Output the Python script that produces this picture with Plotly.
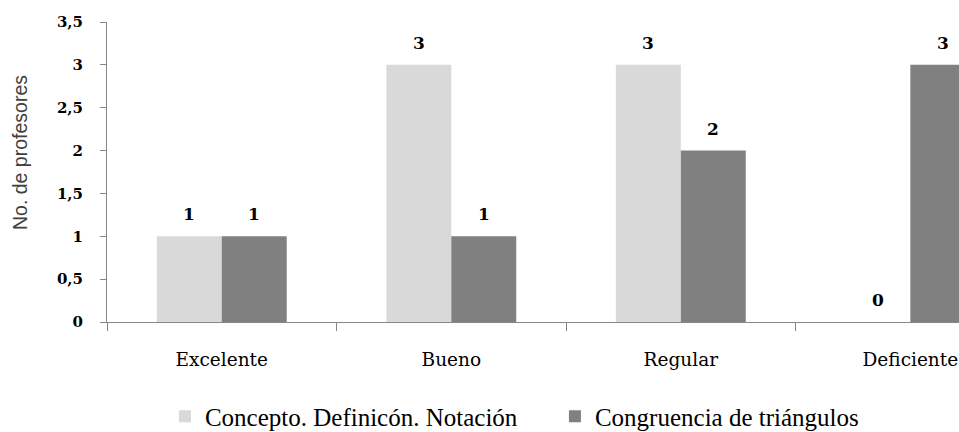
import plotly.graph_objects as go

# Survey results: number of teachers per rating, for each topic
categories = ["Excelente", "Bueno", "Regular", "Deficiente"]
concepto = [1, 3, 3, 0]
congruencia = [1, 1, 2, 3]
series_names = ["Concepto. Definicón. Notación", "Congruencia de triángulos"]
y_ticks = [0, 0.5, 1, 1.5, 2, 2.5, 3, 3.5]

LIGHT = "#d9d9d9"
DARK = "#808080"
AXIS = "#868686"
BARGAP = 0.434

fig = go.Figure()
fig.add_trace(go.Bar(x=categories, y=concepto, name=series_names[0],
                     marker=dict(color=LIGHT, line=dict(width=0))))
fig.add_trace(go.Bar(x=categories, y=congruencia, name=series_names[1],
                     marker=dict(color=DARK, line=dict(width=0))))

# value labels above each bar (bar half-width in category units = (1-gap)/4)
half = (1 - BARGAP) / 4
annotations = []
for i, cat in enumerate(categories):
    for vals, sign in ((concepto, -1), (congruencia, 1)):
        annotations.append(dict(
            x=i + sign * half, y=vals[i], xref="x", yref="y",
            text=f"<b>{vals[i]}</b>", showarrow=False,
            yanchor="middle", yshift=22,
            font=dict(family="DejaVu Serif", size=17, color="#000000")))

# vertical axis title
annotations.append(dict(
    text="No. de profesores", xref="paper", yref="paper",
    x=0, y=(322 - 153) / 300, xanchor="center", yanchor="middle",
    xshift=-87, textangle=-90, showarrow=False,
    font=dict(family="Liberation Sans", size=19.5, color="#404040")))

fig.update_layout(
    width=959, height=432,
    margin=dict(l=107, r=0, t=22, b=110, pad=0, autoexpand=False),
    plot_bgcolor="white", paper_bgcolor="white",
    barmode="group", bargap=BARGAP, bargroupgap=0,
    separators=", ",
    showlegend=True,
    legend=dict(orientation="h", xref="paper", yref="paper",
                x=0.068, y=-0.315, xanchor="left", yanchor="middle",
                font=dict(family="Liberation Serif", size=25, color="#000000"),
                itemwidth=30, tracegroupgap=0,
                entrywidth=345, entrywidthmode="pixels"),
    annotations=annotations,
    xaxis=dict(
        type="category", range=[-0.5, 3.212],
        showline=True, linecolor=AXIS, linewidth=1,
        ticks="outside", tickson="boundaries", ticklen=8,
        tickcolor=AXIS, tickwidth=1,
        ticklabelstandoff=21,
        tickfont=dict(family="DejaVu Serif", size=18.5, color="#000000"),
        showgrid=False, zeroline=False, fixedrange=True),
    yaxis=dict(
        range=[0, 3.5], tickmode="array", tickvals=y_ticks,
        showline=True, linecolor=AXIS, linewidth=1,
        ticks="outside", ticklen=6, tickcolor=AXIS, tickwidth=1,
        ticklabelstandoff=14,
        tickfont=dict(family="DejaVu Serif", size=15, color="#000000",
                      weight="bold"),
        showgrid=False, zeroline=False, fixedrange=True),
)

fig.write_html("out.html")
